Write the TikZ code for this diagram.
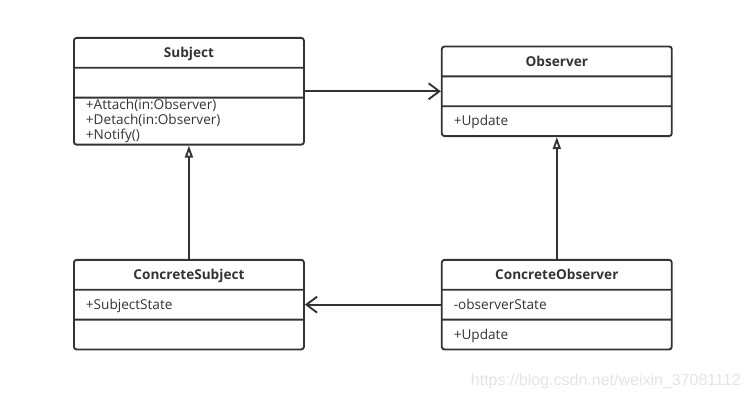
\documentclass[tikz,border=0pt]{standalone}
\usepackage{fontspec}
\setmainfont{Open Sans}
\newfontfamily\markfont{Liberation Sans}
\usepackage{xcolor}
\usepackage{tikz}
\usetikzlibrary{arrows.meta, positioning, shapes.multipart}
\definecolor{umlgray}{RGB}{51,51,51}
\definecolor{markgray}{RGB}{228,228,228}
\newcommand{\onerow}{\rule[-7pt]{0pt}{21pt}}

\begin{document}
\begin{tikzpicture}[x=0.75pt, y=-0.75pt,
    umlclass/.style={rectangle split, rectangle split parts=3, draw=umlgray, line width=1.4pt,
        rounded corners=2pt, minimum width=172.5pt, inner xsep=9pt, inner ysep=0pt, text=umlgray,
        rectangle split part align={center,left,left}, font=\fontsize{10.2}{12}\selectfont},
    assoc/.style={draw=umlgray, line width=1.4pt, -{Straight Barb[length=8pt,width=12pt]}},
    inherit/.style={draw=umlgray, line width=1.4pt, -{Triangle[open,length=9pt,width=6pt]}}]
        \useasboundingbox (0,0) rectangle (750,398);
        % top row
        \node[umlclass, anchor=north west] (subject) at (73,37)
            {\textbf{Subject}\onerow
             \nodepart{two}\onerow
             \nodepart{three}\renewcommand{\arraystretch}{0.94}\begin{tabular}{@{}l@{}}+Attach(in:Observer)\\+Detach(in:Observer)\\+Notify()\end{tabular}};
        \node[umlclass, right=102pt of subject] (observer)
            {\textbf{Observer}\onerow
             \nodepart{two}\onerow
             \nodepart{three}+Update\onerow};
        % bottom row
        \node[umlclass, below=85pt of subject] (concsubject)
            {\textbf{ConcreteSubject}\onerow
             \nodepart{two}+SubjectState\onerow
             \nodepart{three}\onerow};
        \node[umlclass, right=102pt of concsubject] (concobserver)
            {\textbf{ConcreteObserver}\onerow
             \nodepart{two}-observerState\onerow
             \nodepart{three}+Update\onerow};
        % relations
        \draw[assoc] (subject) -- (observer);
        \draw[assoc] (concobserver) -- (concsubject);
        \draw[inherit] (concsubject) -- (subject);
        \draw[inherit] (concobserver) -- (observer);

        \node[anchor=south east, inner sep=0pt, text=markgray, font=\markfont\fontsize{12}{14}\selectfont] (mark) at (741,389)
            {https://blog.csdn.net/weixin\_37081112};
    \end{tikzpicture}
\end{document}
